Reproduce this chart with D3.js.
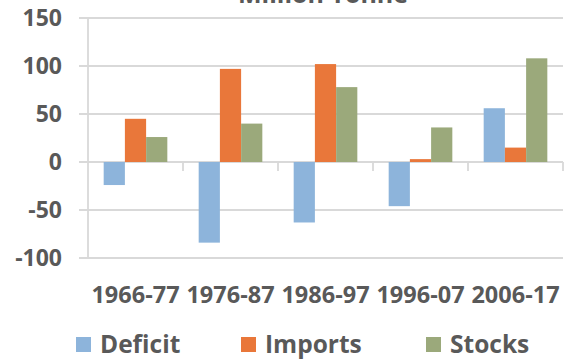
<!DOCTYPE html>
<html>
<head>
<meta charset="utf-8">
<script src="https://cdn.jsdelivr.net/npm/d3@7"></script>
<style>
  html, body { margin: 0; padding: 0; background: #fff; }
  svg { display: block; }
  text { font-family: "Open Sans", sans-serif; font-weight: 700; fill: #595959; }
</style>
</head>
<body>
<svg id="chart" width="565" height="359"></svg>
<script>
// Decade periods and the three series (million tonnes)
const periods = ["1966-77", "1976-87", "1986-97", "1996-07", "2006-17"];
const seriesNames = ["Deficit", "Imports", "Stocks"];
const deficit = [-24, -84, -63, -46, 56];
const imports = [45, 97, 102, 3, 15];
const stocks = [26, 40, 78, 36, 108];
const yTicks = [150, 100, 50, 0, -50, -100];
const colors = ["#8DB4DB", "#E9773A", "#9BA97B"];
const title = "Million Tonne";

const values = [deficit, imports, stocks];
const rows = periods.map((p, i) => ({ period: p, vals: seriesNames.map((s, k) => ({ series: s, value: values[k][i] })) }));

const svg = d3.select("#chart");
const plot = { left: 88, right: 563, top: 18, bottom: 258 };

const x = d3.scaleBand().domain(periods).range([plot.left, plot.right]).paddingInner(0.33).paddingOuter(0.165);
const xInner = d3.scaleBand().domain(seriesNames).range([0, x.bandwidth()]);
const y = d3.scaleLinear().domain([-100, 150]).range([plot.bottom, plot.top]);

// Title, its upper part running above the top edge
svg.append("text")
  .attr("x", 323).attr("y", 3)
  .attr("text-anchor", "middle")
  .style("font-size", "25px")
  .text(title);

// Horizontal gridlines with outside tick stubs
svg.append("g").selectAll("line").data(yTicks).join("line")
  .attr("x1", plot.left - 9).attr("x2", plot.right)
  .attr("y1", d => y(d)).attr("y2", d => y(d))
  .attr("stroke", "#D9D9D9").attr("stroke-width", 1.8);

// Vertical axis line
svg.append("line")
  .attr("x1", plot.left).attr("x2", plot.left)
  .attr("y1", y(150)).attr("y2", y(-100))
  .attr("stroke", "#D9D9D9").attr("stroke-width", 1.8);

// Y tick labels
svg.append("g").selectAll("text").data(yTicks).join("text")
  .attr("x", 62).attr("y", d => y(d))
  .attr("dy", "0.36em")
  .attr("text-anchor", "end")
  .style("font-size", "23px")
  .text(d => d);

// Bars
const groups = svg.append("g").selectAll("g").data(rows).join("g")
  .attr("transform", d => `translate(${x(d.period)},0)`);
groups.selectAll("rect").data(d => d.vals).join("rect")
  .attr("x", d => xInner(d.series))
  .attr("width", xInner.bandwidth())
  .attr("y", d => y(Math.max(0, d.value)))
  .attr("height", d => Math.abs(y(d.value) - y(0)))
  .attr("fill", (d, i) => colors[i]);

// Category axis along zero with tick marks between groups
const step = x.step();
const boundaries = d3.range(1, periods.length + 1).map(i => plot.left + i * step);
svg.append("g").selectAll("line").data(boundaries).join("line")
  .attr("x1", d => d).attr("x2", d => d)
  .attr("y1", y(0)).attr("y2", y(0) + 9)
  .attr("stroke", "#D9D9D9").attr("stroke-width", 1.8);

// Category labels
svg.append("g").selectAll("text").data(periods).join("text")
  .attr("x", d => x(d) + x.bandwidth() / 2)
  .attr("y", 303)
  .attr("text-anchor", "middle")
  .style("font-size", "23.5px")
  .text(d => d);

// Legend
const legendX = [76, 241, 426];
const legend = svg.append("g").selectAll("g").data(seriesNames).join("g")
  .attr("transform", (d, i) => `translate(${legendX[i]},337)`);
legend.append("rect")
  .attr("width", 15).attr("height", 15)
  .attr("fill", (d, i) => colors[i]);
legend.append("text")
  .attr("x", 24).attr("y", 16)
  .style("font-size", "24.5px")
  .text(d => d);
</script>
</body>
</html>
